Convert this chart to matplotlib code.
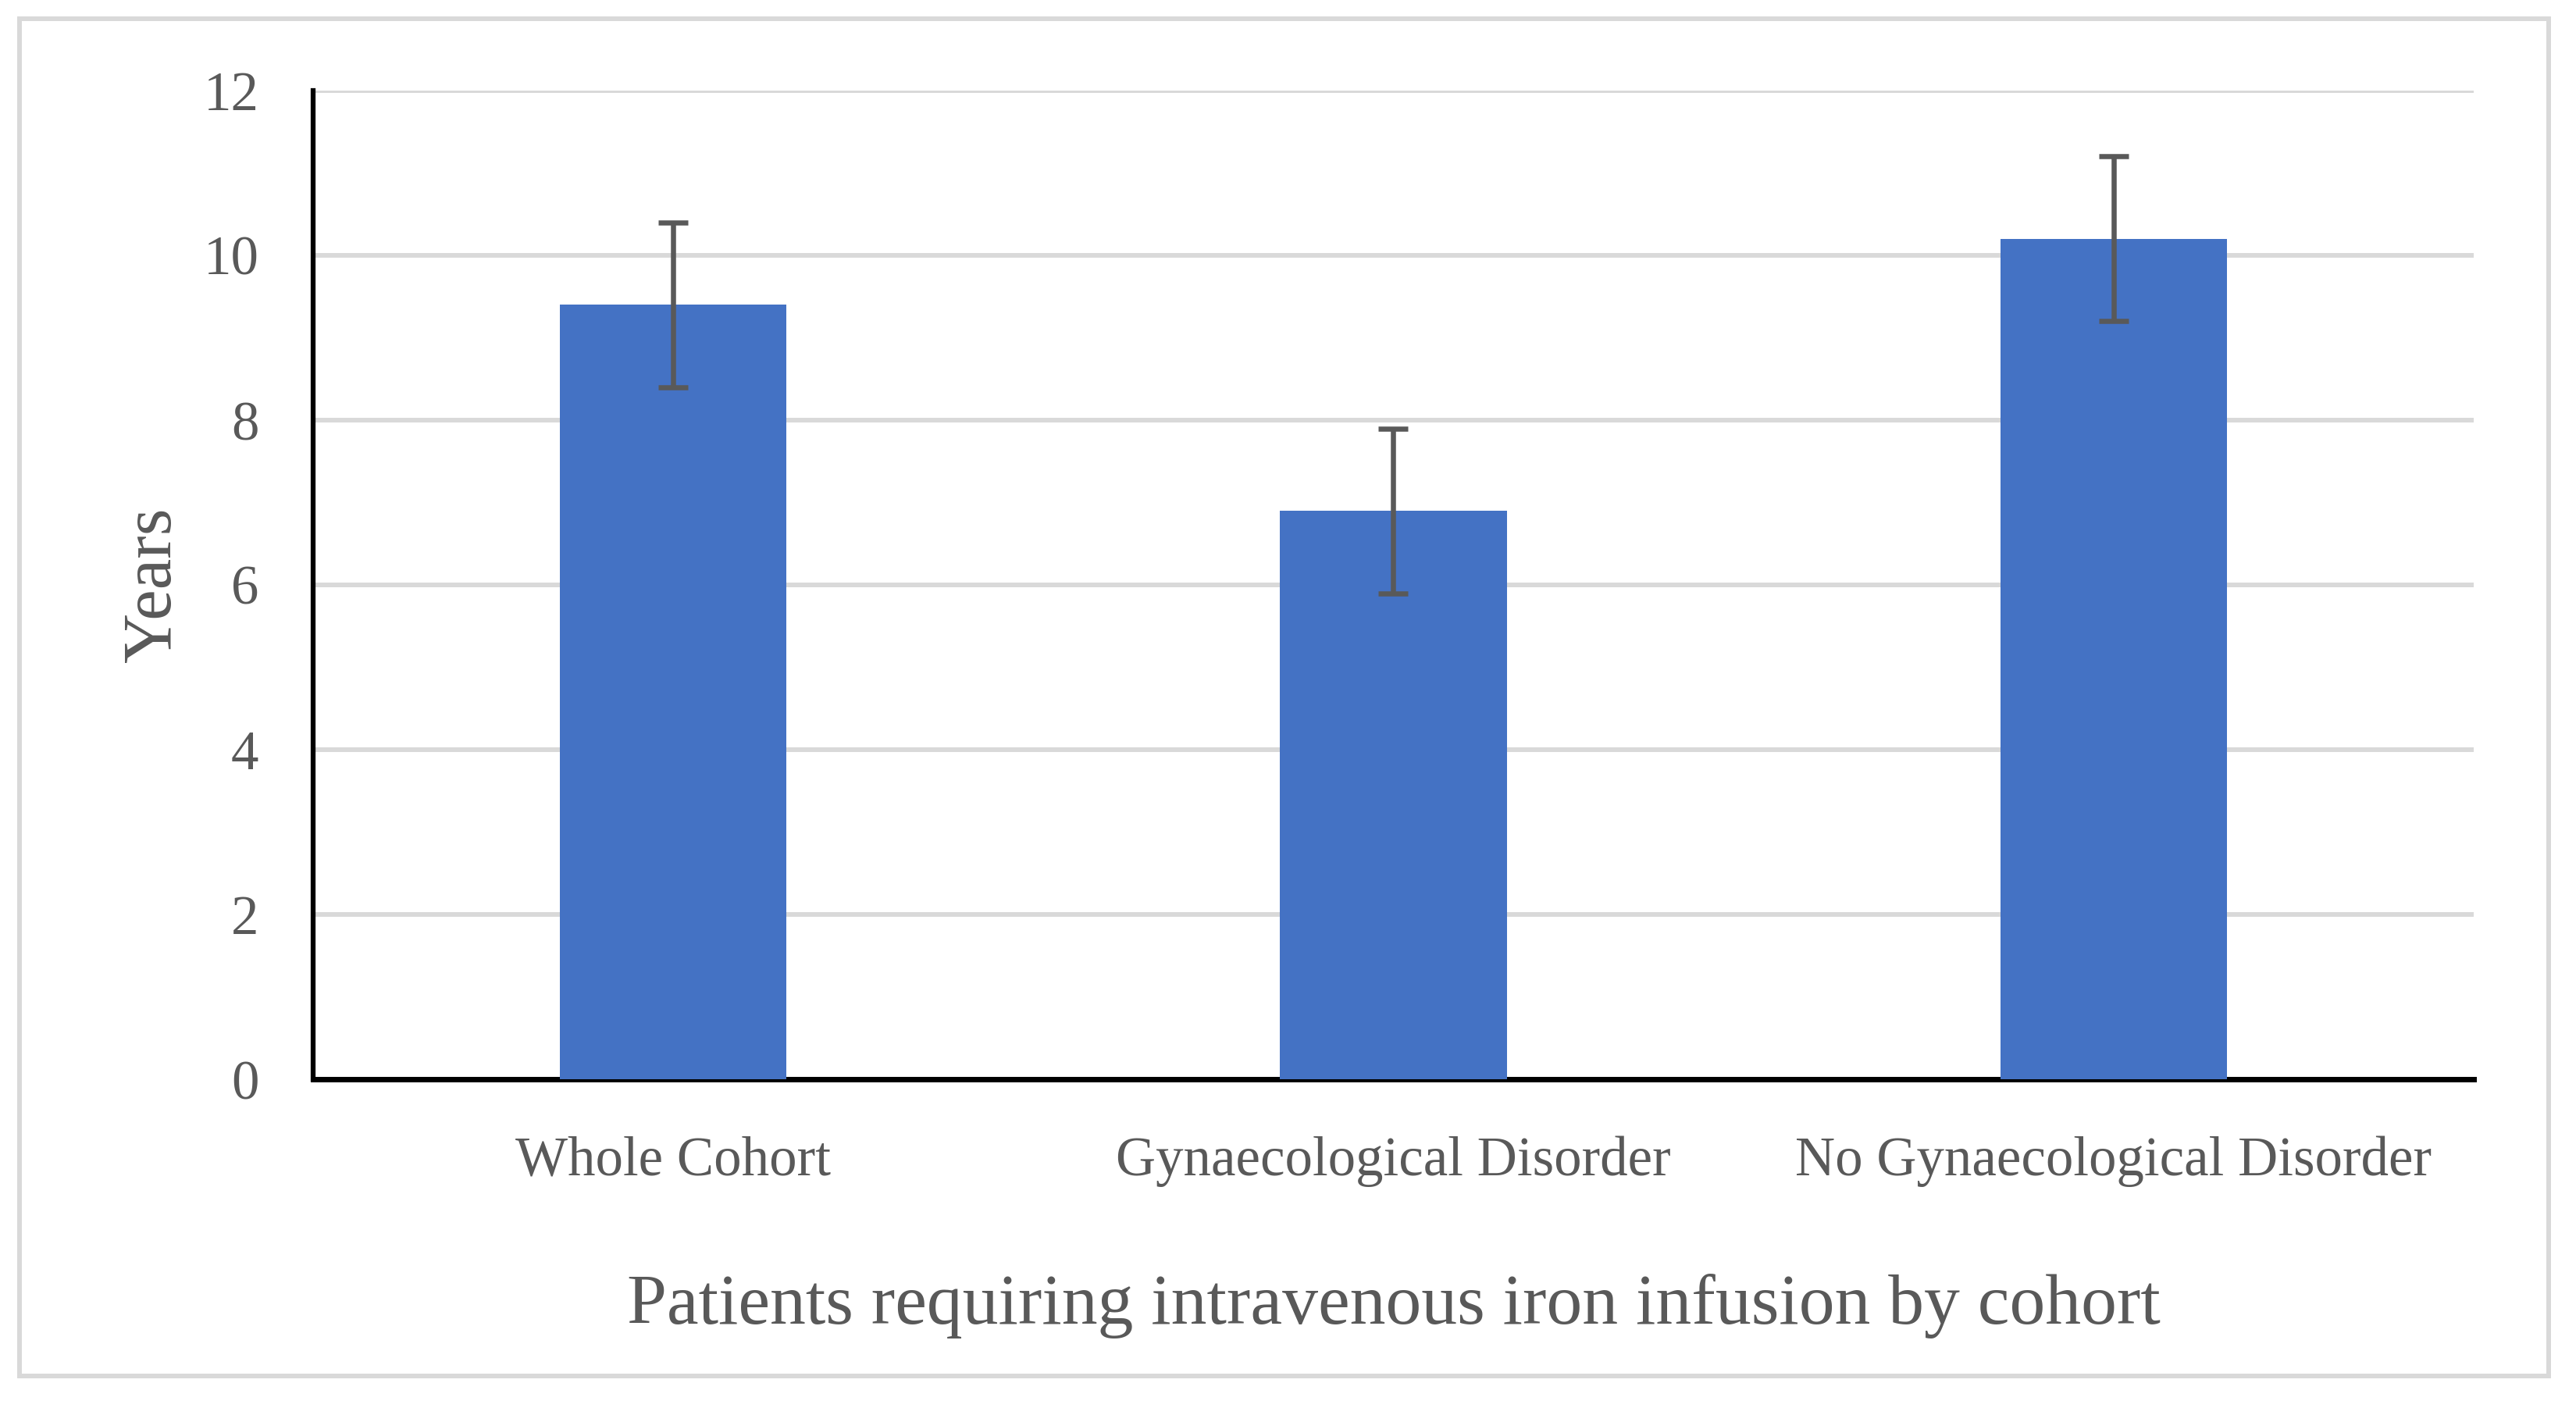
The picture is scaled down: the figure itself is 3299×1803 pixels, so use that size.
import matplotlib
matplotlib.use("Agg")
import matplotlib.pyplot as plt
from matplotlib.patches import Rectangle

categories = ["Whole Cohort", "Gynaecological Disorder", "No Gynaecological Disorder"]
values = [9.4, 6.9, 10.2]
errors = [1.0, 1.0, 1.0]
yticks = [0, 2, 4, 6, 8, 10, 12]

TEXT = "#595959"
plt.rcParams['font.family'] = ['Liberation Serif', 'DejaVu Serif']

W, H, DPI = 3299, 1803, 100
fig = plt.figure(figsize=(W / DPI, H / DPI), dpi=DPI)
fig.patch.set_facecolor("white")

# outer frame
fig.patches.append(Rectangle((25 / W, 1 - 1762 / H), (3264 - 25) / W, (1762 - 24) / H,
                             transform=fig.transFigure, fill=False,
                             edgecolor="#D9D9D9", linewidth=4.3))

ax = fig.add_axes([401 / W, 1 - 1382 / H, (3168 - 401) / W, (1382 - 116) / H])
x = list(range(len(categories)))
ax.bar(x, values, width=0.315, color="#4472C4", zorder=3)
ax.errorbar(x, values, yerr=errors, fmt="none", ecolor=TEXT, elinewidth=4.7,
            capsize=13.7, capthick=4.7, zorder=4)

ax.set_xlim(-0.5, len(categories) - 0.5)
ax.set_ylim(0, 12)
ax.set_yticks(yticks)
ax.set_yticklabels([str(t) for t in yticks])
ax.set_xticks(x)
ax.set_xticklabels(categories)
ax.yaxis.grid(True, color="#D9D9D9", linewidth=4.3, zorder=0)
ax.set_axisbelow(True)

for s in ["top", "right"]:
    ax.spines[s].set_visible(False)
ax.spines["left"].set_linewidth(4.5)
ax.spines["bottom"].set_linewidth(5)
ax.spines["left"].set_color("black")
ax.spines["bottom"].set_color("black")

ax.tick_params(axis="both", length=0, labelsize=51, labelcolor=TEXT)
ax.tick_params(axis="y", pad=50)
ax.tick_params(axis="x", pad=52)

ax.set_xlabel("Patients requiring intravenous iron infusion by cohort",
              fontsize=66, color=TEXT, labelpad=80)
ax.set_ylabel("Years", fontsize=64, color=TEXT, labelpad=17)

fig.savefig("out.png", dpi=DPI, facecolor="white")
